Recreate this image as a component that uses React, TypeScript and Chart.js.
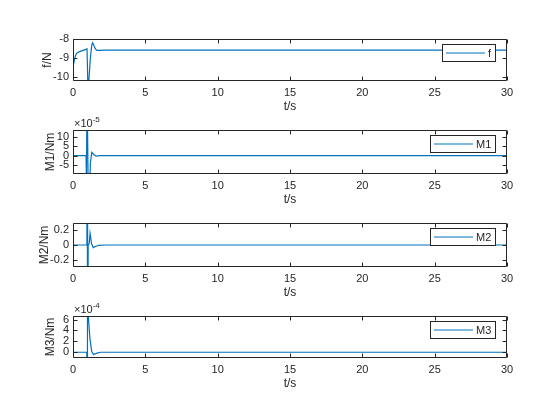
import React, { useEffect, useRef } from 'react';
import { Chart, registerables } from 'chart.js';

Chart.register(...registerables);

// ---------------- data ----------------
const xTicks = [0, 5, 10, 15, 20, 25, 30];

const fTime = [0, 0.03, 0.12, 0.2, 0.3, 0.5, 0.8, 0.97, 1.04, 1.1, 1.2, 1.3, 1.36, 1.45, 1.55, 1.65, 1.8, 2.2, 30];
const fValues = [-8.62, -9.35, -9.0, -8.82, -8.72, -8.65, -8.57, -8.52, -10.8, -10.8, -9.0, -8.3, -8.2, -8.35, -8.52, -8.6, -8.6, -8.58, -8.58];
const fTicks = [-10, -9, -8];

const m1Time = [0, 0.9, 0.93, 0.97, 1.08, 1.2, 1.3, 1.45, 1.6, 1.9, 30];
const m1Values = [0, 0, -12e-5, 40e-5, -40e-5, -4e-5, 1.8e-5, 0.5e-5, -0.2e-5, 0, 0];
const m1Ticks = [-5e-5, 0, 5e-5, 10e-5];

const m2Time = [0, 0.96, 0.98, 1.01, 1.05, 1.12, 1.18, 1.28, 1.4, 1.55, 1.8, 2.2, 30];
const m2Values = [0, 0, 2, -2, 0, 0.02, 0.16, 0.02, -0.036, -0.02, -0.004, 0, 0];
const m2Ticks = [-0.2, 0, 0.2];

const m3Time = [0, 0.95, 0.975, 1.0, 1.06, 1.17, 1.29, 1.42, 1.6, 1.9, 30];
const m3Values = [0, 0, -3e-4, 12e-4, 6.5e-4, 2.5e-4, 0.2e-4, -0.4e-4, -0.2e-4, 0, 0];
const m3Ticks = [0, 2e-4, 4e-4, 6e-4];

const yMins = [-10.2, -9.7e-5, -0.3, -1.05e-4];
const yMaxs = [-8, 13.6e-5, 0.3, 6.65e-4];
const yLabels = ['f/N', 'M1/Nm', 'M2/Nm', 'M3/Nm'];
const legendLabels = ['f', 'M1', 'M2', 'M3'];
const exponents = [0, -5, 0, -4];
const xLabel = 't/s';

const times = [fTime, m1Time, m2Time, m3Time];
const values = [fValues, m1Values, m2Values, m3Values];
const yTickSets = [fTicks, m1Ticks, m2Ticks, m3Ticks];

// ---------------- layout / style ----------------
const W = 560;
const H = 420;
const PLOT_LEFT = 73;
const PLOT_RIGHT = 507;
const PANEL_TOPS = [39, 130, 223, 316];
const PANEL_BOTTOMS = [81, 174, 267, 358];
const Y_PAD_LEFTS = [36, 39, 33, 39];
const BLUE = '#0072BD';
const INK = '#262626';
const FONT = "'Liberation Sans', Arial, Helvetica, sans-serif";
const TICK_SIZE = 11;
const LABEL_SIZE = 12;

const matlabPlugin = {
  id: 'matlabBox',
  afterDatasetsDraw(chart: any, _args: any, opts: any) {
    const { ctx, chartArea: a, scales } = chart;
    const L = Math.round(a.left) + 0.5;
    const R = Math.round(a.right) - 0.5;
    const T = Math.round(a.top) + 0.5;
    const B = Math.round(a.bottom) - 0.5;
    const tl = 4;
    ctx.save();
    ctx.strokeStyle = INK;
    ctx.lineWidth = 1;
    ctx.beginPath();
    ctx.rect(L, T, R - L, B - T);
    for (const v of xTicks) {
      const x = Math.round(scales.x.getPixelForValue(v)) + 0.5;
      ctx.moveTo(x, B);
      ctx.lineTo(x, B - tl);
      ctx.moveTo(x, T);
      ctx.lineTo(x, T + tl);
    }
    for (const v of opts.yTicks) {
      const y = Math.round(scales.y.getPixelForValue(v)) + 0.5;
      ctx.moveTo(L, y);
      ctx.lineTo(L + tl, y);
      ctx.moveTo(R, y);
      ctx.lineTo(R - tl, y);
    }
    ctx.stroke();

    // exponent label
    if (opts.exponent) {
      ctx.fillStyle = INK;
      ctx.textBaseline = 'alphabetic';
      ctx.textAlign = 'left';
      ctx.font = `${TICK_SIZE}px ${FONT}`;
      const base = '\u00d710';
      ctx.fillText(base, a.left + 1, a.top - 3);
      const bw = ctx.measureText(base).width;
      ctx.font = `8px ${FONT}`;
      ctx.fillText(String(opts.exponent), a.left + 1 + bw, a.top - 8);
    }

    // legend
    const text = opts.legend;
    ctx.font = `${TICK_SIZE}px ${FONT}`;
    const tw = ctx.measureText(text).width;
    const w = Math.round(3 + 39 + 4 + tw + 4);
    const h = 17;
    const right = Math.round(a.right) - 12;
    const x0 = right - w;
    const y0 = Math.round(a.top) + 5;
    ctx.fillStyle = '#ffffff';
    ctx.fillRect(x0, y0, w, h);
    ctx.strokeStyle = INK;
    ctx.strokeRect(x0 + 0.5, y0 + 0.5, w, h);
    ctx.strokeStyle = BLUE;
    ctx.lineWidth = 1;
    ctx.beginPath();
    ctx.moveTo(x0 + 4, y0 + h / 2 + 0.5);
    ctx.lineTo(x0 + 43, y0 + h / 2 + 0.5);
    ctx.stroke();
    ctx.fillStyle = INK;
    ctx.textBaseline = 'middle';
    ctx.textAlign = 'left';
    ctx.fillText(text, x0 + 46, y0 + h / 2 + 1);
    ctx.restore();
  },
};

function fmt(v: number, exp: number) {
  const s = exp ? v / Math.pow(10, exp) : v;
  return String(Number(s.toFixed(6)));
}

function Panel({ i }: { i: number }) {
  const ref = useRef<HTMLCanvasElement | null>(null);
  useEffect(() => {
    const exp = exponents[i];
    const yTicks = yTickSets[i];
    const X_AXIS_H = 37;
    const Y_PAD_LEFT = Y_PAD_LEFTS[i];
    const chart = new Chart(ref.current as HTMLCanvasElement, {
      type: 'line',
      data: {
        datasets: [
          {
            label: legendLabels[i],
            data: times[i].map((t, k) => ({ x: t, y: values[i][k] })),
            borderColor: BLUE,
            borderWidth: 1.2,
            pointRadius: 0,
            tension: 0,
            fill: false,
          },
        ],
      },
      options: {
        responsive: false,
        animation: false,
        devicePixelRatio: 1,
        events: [],
        layout: {
          padding: {
            left: Y_PAD_LEFT,
            right: W - PLOT_RIGHT,
            top: PANEL_TOPS[i],
            bottom: H - PANEL_BOTTOMS[i] - X_AXIS_H,
          },
        },
        plugins: {
          legend: { display: false },
          tooltip: { enabled: false },
          matlabBox: { yTicks, exponent: exp, legend: legendLabels[i] },
        } as any,
        scales: {
          x: {
            type: 'linear',
            min: 0,
            max: 30,
            afterBuildTicks: (s: any) => {
              s.ticks = xTicks.map((v) => ({ value: v }));
            },
            afterFit: (s: any) => {
              s.height = X_AXIS_H;
            },
            grid: { display: false, drawTicks: false },
            border: { display: false },
            ticks: {
              padding: 5,
              color: INK,
              font: { family: FONT, size: TICK_SIZE },
              maxRotation: 0,
              autoSkip: false,
              callback: (v: any) => String(v),
            },
            title: {
              display: true,
              text: xLabel,
              color: INK,
              font: { family: FONT, size: LABEL_SIZE },
              padding: { top: 0, bottom: 4 },
            },
          },
          y: {
            type: 'linear',
            min: yMins[i],
            max: yMaxs[i],
            afterBuildTicks: (s: any) => {
              s.ticks = yTicks.map((v) => ({ value: v }));
            },
            afterFit: (s: any) => {
              s.width = PLOT_LEFT - Y_PAD_LEFT;
            },
            grid: { display: false, drawTicks: false },
            border: { display: false },
            ticks: {
              padding: 4,
              color: INK,
              font: { family: FONT, size: TICK_SIZE },
              autoSkip: false,
              callback: (v: any) => fmt(Number(v), exp),
            },
            title: {
              display: true,
              text: yLabels[i],
              color: INK,
              font: { family: FONT, size: LABEL_SIZE },
              padding: { top: 4, bottom: 0 },
            },
          },
        },
      },
      plugins: [matlabPlugin],
    } as any);
    return () => chart.destroy();
  }, [i]);
  return (
    <canvas
      ref={ref}
      width={W}
      height={H}
      style={{ position: 'absolute', left: 0, top: 0, width: W, height: H }}
    />
  );
}

export default function App() {
  return (
    <div style={{ position: 'absolute', left: 0, top: 0, width: W, height: H, background: '#ffffff' }}>
      {[0, 1, 2, 3].map((i) => (
        <Panel key={i} i={i} />
      ))}
    </div>
  );
}
